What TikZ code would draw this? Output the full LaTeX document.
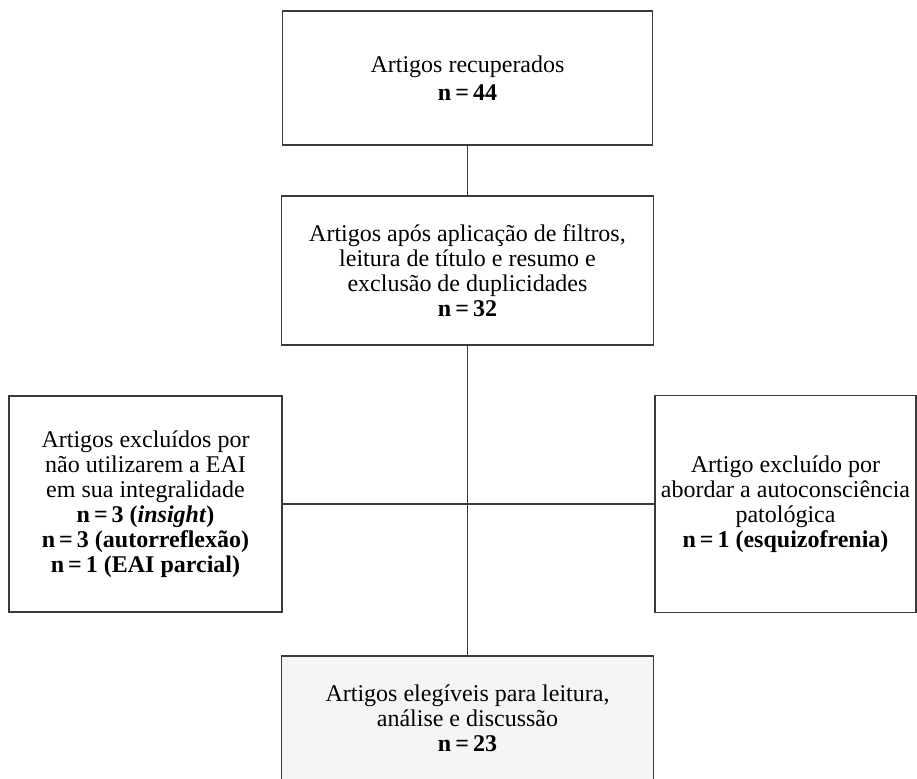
\documentclass[tikz,border=0pt]{standalone}
\usepackage{fontspec}
\setmainfont{Liberation Serif}
\usepackage{xcolor}
\usepackage{tikz}
\definecolor{FxLine}{HTML}{3A3A3A}
\definecolor{FxFill}{HTML}{F5F5F5}

\begin{document}
\begin{tikzpicture}[
  x=1pt, y=-1pt,
  box/.style={draw=FxLine, line width=1.3pt, fill=white, align=center, inner xsep=0pt, font=\fontsize{24}{25}\selectfont},
  final/.style={box, fill=FxFill},
  link/.style={draw=FxLine, line width=1.1pt}
]
\useasboundingbox (0,0) rectangle (917,778);
\node[box, minimum width=370pt, minimum height=134pt] (found) at (467.5,78) {Artigos recuperados\\[3pt]\textbf{n\,=\,44}};
\node[box, minimum width=372pt, minimum height=149pt] (filtered) at (467.5,270.5) {Artigos após aplicação de filtros,\\leitura de título e resumo e\\exclusão de duplicidades\\\textbf{n\,=\,32}};
\node[box, minimum width=273pt, minimum height=216pt] (excluded) at (145.5,504) {Artigos excluídos por\\não utilizarem a EAI\\em sua integralidade\\\textbf{n\,=\,3 (\textit{insight})}\\\textbf{n\,=\,3 (autorreflexão)}\\\textbf{n\,=\,1 (EAI parcial)}};
\node[box, minimum width=261pt, minimum height=217pt] (pathol) at (785.5,504) {Artigo excluído por\\abordar a autoconsciência\\patológica\\\textbf{n\,=\,1 (esquizofrenia)}};
\node[final, minimum width=372pt, minimum height=124pt] (eligible) at (467.5,718) {Artigos elegíveis para leitura,\\análise e discussão\\\textbf{n\,=\,23}};
\draw[link] (found) -- (filtered);
\draw[link] (filtered) -- (eligible);
\draw[link] (excluded) -- (pathol);
\end{tikzpicture}
\end{document}
